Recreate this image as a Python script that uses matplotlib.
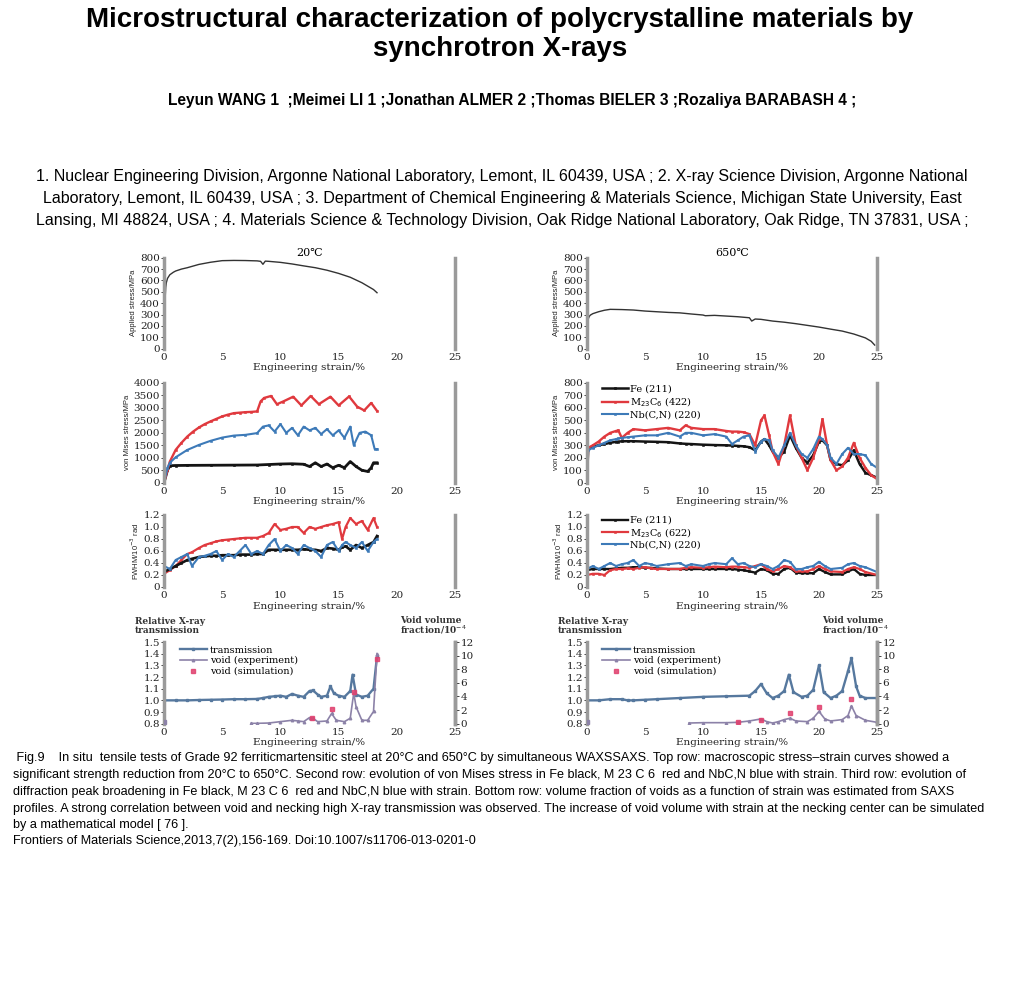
import matplotlib
matplotlib.use('Agg')
import matplotlib.pyplot as plt
from matplotlib import font_manager

_names = {f.name for f in font_manager.fontManager.ttflist}
NARROW = 'Liberation Sans Narrow' if 'Liberation Sans Narrow' in _names else None
SANS = 'Liberation Sans'
SERIF = 'DejaVu Serif'
plt.rcParams['font.family'] = SERIF

# ---------------- data ----------------
title_lines = ["Microstructural characterization of polycrystalline materials by",
               "synchrotron X-rays"]
authors = "Leyun WANG 1  ;Meimei LI 1 ;Jonathan ALMER 2 ;Thomas BIELER 3 ;Rozaliya BARABASH 4 ;"
affil_lines = [
    "1. Nuclear Engineering Division, Argonne National Laboratory, Lemont, IL 60439, USA ; 2. X-ray Science Division, Argonne National",
    "Laboratory, Lemont, IL 60439, USA ; 3. Department of Chemical Engineering & Materials Science, Michigan State University, East",
    "Lansing, MI 48824, USA ; 4. Materials Science & Technology Division, Oak Ridge National Laboratory, Oak Ridge, TN 37831, USA ;",
]
caption_lines = [
    " Fig.9    In situ  tensile tests of Grade 92 ferriticmartensitic steel at 20°C and 650°C by simultaneous WAXSSAXS. Top row: macroscopic stress–strain curves showed a",
    "significant strength reduction from 20°C to 650°C. Second row: evolution of von Mises stress in Fe black, M 23 C 6  red and NbC,N blue with strain. Third row: evolution of",
    "diffraction peak broadening in Fe black, M 23 C 6  red and NbC,N blue with strain. Bottom row: volume fraction of voids as a function of strain was estimated from SAXS",
    "profiles. A strong correlation between void and necking high X-ray transmission was observed. The increase of void volume with strain at the necking center can be simulated",
    "by a mathematical model [ 76 ].",
    "Frontiers of Materials Science,2013,7(2),156-169. Doi:10.1007/s11706-013-0201-0",
]
panel_titles = ["20℃", "650℃"]
xlabel = "Engineering strain/%"
x_ticks = [0, 5, 10, 15, 20, 25]

# Row 1: applied stress
app20_x = [0, 0.05, 0.1, 0.15, 0.2, 0.3, 0.5, 0.8, 1, 1.5, 2, 3, 4, 5, 6, 7, 8, 8.3, 8.5, 8.7, 9, 10, 11, 12, 13, 14, 15, 16, 17, 18, 18.3]
app20_y = [0, 250, 450, 540, 580, 618, 650, 672, 683, 700, 712, 741, 760, 774, 776, 775, 772, 768, 742, 770, 768, 759, 745, 728, 712, 690, 662, 628, 580, 520, 492]
app650_x = [0, 0.05, 0.1, 0.2, 0.3, 0.5, 1, 1.5, 2, 3, 4, 5, 6, 7, 8, 9, 10, 10.2, 11, 12, 13, 14, 14.2, 14.5, 15, 16, 17, 18, 19, 20, 21, 22, 23, 24, 24.5, 24.8]
app650_y = [0, 150, 260, 285, 296, 308, 325, 338, 346, 344, 340, 331, 325, 319, 315, 305, 296, 290, 293, 287, 281, 272, 243, 261, 258, 243, 233, 220, 205, 190, 172, 155, 129, 95, 65, 32]

# Row 2: von Mises stress, 20C
vm20_red_x = [0, 0.3, 0.5, 1, 1.5, 2, 2.5, 3, 3.5, 4, 4.5, 5, 5.5, 6, 6.5, 7, 7.5, 8, 8.3, 8.6, 9.2, 9.7, 10.2, 11.1, 11.8, 12.6, 13.3, 14.3, 15.0, 15.9, 16.6, 17.2, 17.8, 18.3]
vm20_red_y = [0, 510, 845, 1315, 1600, 1850, 2050, 2215, 2350, 2460, 2560, 2660, 2730, 2790, 2810, 2830, 2840, 2860, 3260, 3400, 3480, 3150, 3250, 3450, 3100, 3480, 3150, 3450, 3100, 3460, 3050, 2900, 3200, 2880]
vm20_blue_x = [0, 0.3, 0.5, 1, 2, 3, 4, 5, 6, 7, 8, 8.5, 9, 9.5, 10, 10.5, 11, 11.5, 12, 12.5, 13, 13.5, 14, 14.5, 15, 15.5, 16, 16.3, 16.8, 17.3, 17.8, 18.1, 18.3]
vm20_blue_y = [0, 600, 800, 1020, 1315, 1515, 1680, 1810, 1890, 1920, 1990, 2250, 2300, 2050, 2350, 2000, 2200, 1900, 2250, 2100, 2200, 1950, 2150, 1900, 2100, 1800, 2250, 1500, 2000, 2050, 1900, 1350, 1350]
vm20_black_x = [0, 0.3, 0.5, 1, 2, 4, 6, 8, 9, 10, 11, 12, 12.5, 13, 13.5, 14, 14.5, 15, 15.5, 16, 16.5, 17, 17.5, 17.8, 18, 18.3]
vm20_black_y = [0, 500, 680, 690, 695, 700, 705, 710, 730, 750, 760, 740, 650, 800, 650, 750, 600, 700, 600, 850, 650, 500, 450, 600, 800, 800]

# Row 2: von Mises stress, 650C
vm650_x = [0, 0.1, 0.5, 1, 1.5, 2, 2.5, 2.7, 3, 3.5, 4, 5, 6, 7, 8, 8.5, 9, 10, 11, 12, 12.5, 13, 13.5, 14, 14.5, 15, 15.3, 15.7, 16, 16.5, 17, 17.5, 18, 18.5, 19, 19.5, 20, 20.3, 20.7, 21, 21.5, 22, 22.5, 23, 23.5, 24, 24.5, 25]
vm650_fe = [0, 270, 290, 300, 310, 320, 328, 330, 332, 333, 333, 330, 328, 325, 315, 312, 310, 305, 302, 300, 298, 295, 292, 285, 260, 330, 350, 300, 250, 200, 250, 380, 280, 200, 160, 220, 330, 340, 300, 180, 150, 140, 180, 260, 150, 80, 60, 40]
vm650_m23 = [0, 280, 300, 330, 370, 400, 415, 420, 360, 400, 430, 420, 430, 440, 420, 460, 440, 430, 430, 415, 410, 410, 405, 390, 300, 500, 540, 380, 250, 150, 300, 540, 300, 200, 100, 200, 350, 510, 300, 180, 100, 130, 200, 320, 200, 120, 60, 30]
vm650_nb = [0, 260, 280, 300, 320, 340, 350, 355, 360, 365, 370, 380, 380, 400, 370, 400, 400, 380, 390, 370, 310, 340, 370, 380, 250, 330, 350, 340, 260, 200, 300, 400, 300, 230, 200, 270, 370, 350, 300, 200, 150, 230, 280, 230, 230, 220, 150, 120]

# Row 3: FWHM, 20C
fw20_x = [0, 0.5, 1, 1.5, 2, 2.4, 3, 3.5, 4, 4.5, 5, 5.5, 6, 6.5, 7, 7.5, 8, 8.5, 9, 9.5, 10, 10.5, 11, 11.5, 12, 12.5, 13, 13.5, 14, 14.5, 15, 15.3, 15.6, 16, 16.5, 17, 17.5, 18, 18.3]
fw20_m23 = [0.22, 0.28, 0.35, 0.45, 0.55, 0.58, 0.65, 0.7, 0.73, 0.76, 0.78, 0.79, 0.8, 0.81, 0.82, 0.82, 0.82, 0.85, 0.9, 1.05, 0.95, 0.97, 1.0, 1.0, 0.9, 1.0, 0.97, 1.0, 1.03, 1.05, 1.08, 0.8, 1.0, 1.15, 1.05, 1.1, 0.95, 1.15, 1.0]
fw20_nb = [0.35, 0.3, 0.45, 0.5, 0.55, 0.35, 0.5, 0.52, 0.55, 0.6, 0.45, 0.55, 0.5, 0.6, 0.7, 0.55, 0.6, 0.55, 0.7, 0.8, 0.6, 0.7, 0.65, 0.55, 0.7, 0.65, 0.6, 0.5, 0.7, 0.75, 0.6, 0.7, 0.75, 0.7, 0.65, 0.75, 0.6, 0.75, 0.8]
fw20_fe = [0.25, 0.3, 0.35, 0.4, 0.45, 0.47, 0.5, 0.51, 0.52, 0.52, 0.53, 0.53, 0.53, 0.54, 0.54, 0.54, 0.55, 0.55, 0.62, 0.62, 0.62, 0.62, 0.62, 0.62, 0.63, 0.62, 0.62, 0.6, 0.65, 0.64, 0.62, 0.66, 0.68, 0.62, 0.7, 0.65, 0.7, 0.75, 0.85]

# Row 3: FWHM, 650C
fw650_x = [0, 0.5, 1, 1.5, 2, 2.5, 3, 3.5, 4, 4.5, 5, 5.5, 6, 7, 8, 8.5, 9, 10, 10.5, 11, 12, 12.5, 13, 13.5, 14, 14.5, 15, 15.5, 16, 16.5, 17, 17.5, 18, 18.5, 19, 19.5, 20, 20.5, 21, 22, 22.5, 23, 23.5, 24, 25]
fw650_fe = [0.28, 0.3, 0.3, 0.3, 0.3, 0.31, 0.32, 0.32, 0.33, 0.33, 0.32, 0.32, 0.31, 0.3, 0.3, 0.3, 0.3, 0.3, 0.3, 0.3, 0.3, 0.3, 0.29, 0.28, 0.26, 0.24, 0.3, 0.28, 0.22, 0.22, 0.3, 0.32, 0.24, 0.23, 0.23, 0.23, 0.3, 0.25, 0.21, 0.21, 0.26, 0.3, 0.22, 0.2, 0.2]
fw650_m23 = [0.2, 0.22, 0.22, 0.2, 0.28, 0.3, 0.3, 0.31, 0.3, 0.32, 0.33, 0.31, 0.3, 0.3, 0.3, 0.32, 0.33, 0.32, 0.33, 0.34, 0.33, 0.34, 0.34, 0.33, 0.32, 0.35, 0.38, 0.3, 0.26, 0.3, 0.35, 0.33, 0.26, 0.26, 0.26, 0.3, 0.35, 0.3, 0.26, 0.25, 0.3, 0.33, 0.3, 0.25, 0.2]
fw650_nb = [0.3, 0.35, 0.3, 0.35, 0.4, 0.35, 0.38, 0.4, 0.45, 0.35, 0.4, 0.38, 0.35, 0.38, 0.4, 0.35, 0.38, 0.35, 0.38, 0.4, 0.38, 0.48, 0.38, 0.4, 0.35, 0.33, 0.38, 0.35, 0.3, 0.35, 0.45, 0.42, 0.3, 0.3, 0.33, 0.35, 0.42, 0.35, 0.3, 0.32, 0.38, 0.4, 0.35, 0.33, 0.25]

# Row 4: transmission and voids
tr20_x = [0, 1, 2, 3, 4, 5, 6, 7, 8, 8.5, 9, 9.5, 10, 10.5, 11, 11.5, 12, 12.5, 12.8, 13.2, 13.5, 14, 14.3, 14.6, 15, 15.5, 16, 16.2, 16.5, 17, 17.5, 18, 18.3]
tr20_y = [1.0, 1.0, 1.0, 1.003, 1.005, 1.007, 1.01, 1.01, 1.012, 1.02, 1.03, 1.035, 1.04, 1.03, 1.055, 1.04, 1.03, 1.08, 1.085, 1.05, 1.03, 1.04, 1.12, 1.06, 1.04, 1.03, 1.08, 1.22, 1.05, 1.03, 1.04, 1.1, 1.38]
void20_exp_x = [7.5, 8, 9, 10, 11, 11.5, 12, 12.5, 12.8, 13.2, 14, 14.4, 14.8, 15.5, 16, 16.3, 16.5, 17, 17.5, 18, 18.3]
void20_exp_y = [0.05, 0.05, 0.1, 0.3, 0.5, 0.4, 0.3, 0.9, 0.8, 0.3, 0.4, 1.5, 0.5, 0.3, 0.8, 4.5, 2.5, 0.5, 0.5, 1.8, 10.3]
void20_sim_x = [12.7, 14.4, 16.3, 18.3]
void20_sim_y = [0.9, 2.2, 4.6, 9.5]
tr650_x = [0, 1, 2, 3, 3.5, 4, 5, 6, 8, 10, 12, 14, 14.5, 15, 15.5, 16, 16.5, 17, 17.4, 17.8, 18.5, 19, 19.5, 20, 20.4, 21, 21.5, 22, 22.5, 22.8, 23.2, 23.5, 24, 25]
tr650_y = [1.0, 1.0, 1.01, 1.01, 1.0, 1.0, 1.005, 1.01, 1.02, 1.03, 1.035, 1.04, 1.08, 1.14, 1.06, 1.02, 1.04, 1.08, 1.22, 1.07, 1.03, 1.04, 1.09, 1.3, 1.07, 1.02, 1.04, 1.08, 1.25, 1.36, 1.12, 1.04, 1.02, 1.02]
void650_exp_x = [8.8, 10, 12, 13, 14, 15, 15.5, 16, 16.5, 17, 17.5, 18, 19, 19.5, 20, 20.5, 21, 22, 22.5, 22.8, 23.2, 24, 25]
void650_exp_y = [0.1, 0.15, 0.15, 0.2, 0.4, 0.7, 0.3, 0.1, 0.3, 0.6, 0.8, 0.4, 0.3, 0.8, 1.8, 0.7, 0.4, 0.6, 1.2, 2.6, 1.2, 0.5, 0.2]
void650_sim_x = [13, 15, 17.5, 20, 22.8]
void650_sim_y = [0.2, 0.5, 1.6, 2.4, 3.6]
void_start_x = [0]
void_start_y = [0.3]

# ---------------- styles ----------------
C_FE = '#141414'
C_M23 = '#e0393e'
C_NB = '#3d7ab8'
C_TR = '#56789e'
C_VE = '#8c82a8'
C_VS = '#e0406e'
SPINE = '#9a9a9a'

W, H = 1024, 1000
fig = plt.figure(figsize=(W / 100, H / 100), dpi=100)


def ax_px(x0, x1, ytop, ybot):
    return fig.add_axes([x0 / W, 1 - ybot / H, (x1 - x0) / W, (ybot - ytop) / H])


def style(ax, ylim, yticks, ylabels, ylab=None):
    ax.set_xlim(0, 25)
    ax.set_ylim(*ylim)
    ax.set_xticks(x_ticks)
    ax.set_xticklabels([str(t) for t in x_ticks])
    ax.set_yticks(yticks)
    ax.set_yticklabels(ylabels)
    for s in ('top', 'bottom'):
        ax.spines[s].set_visible(False)
    for s in ('left', 'right'):
        ax.spines[s].set_color(SPINE)
        ax.spines[s].set_linewidth(2.5)
    ax.tick_params(axis='x', length=0, labelsize=7.5, pad=3, colors='#222')
    ax.tick_params(axis='y', length=2, labelsize=7.5, pad=1, colors='#222', width=0.6)
    ax.set_xlabel(xlabel, fontsize=7.5, labelpad=1, color='#222')
    if ylab:
        ax.set_ylabel(ylab, fontsize=5.5, family=SANS, labelpad=2, color='#222')
    ax.set_facecolor('white')


LX = (164, 455)
RX = (587, 877)
ROWS = [(257.7, 348.7), (383, 482.7), (515, 587), (642, 723.7)]

mk = dict(markersize=1.7, markeredgewidth=0.4)

# Row 1
a = ax_px(*LX, *ROWS[0])
a.plot(app20_x, app20_y, color='#333', lw=1.0)
style(a, (0, 800), list(range(0, 801, 100)), [str(v) for v in range(0, 801, 100)], "Applied stress/MPa")
a.set_title(panel_titles[0], fontsize=8, pad=1)
a = ax_px(*RX, *ROWS[0])
a.plot(app650_x, app650_y, color='#333', lw=1.0)
style(a, (0, 800), list(range(0, 801, 100)), [str(v) for v in range(0, 801, 100)], "Applied stress/MPa")
a.set_title(panel_titles[1], fontsize=8, pad=1)

# Row 2
a = ax_px(*LX, *ROWS[1])
a.plot(vm20_black_x, vm20_black_y, color=C_FE, lw=2.0, marker='s', **mk)
a.plot(vm20_red_x, vm20_red_y, color=C_M23, lw=1.7, marker='s', **mk)
a.plot(vm20_blue_x, vm20_blue_y, color=C_NB, lw=1.5, marker='s', **mk)
style(a, (0, 4000), list(range(0, 4001, 500)), [str(v) for v in range(0, 4001, 500)], "von Mises stress/MPa")
a = ax_px(*RX, *ROWS[1])
a.plot(vm650_x, vm650_fe, color=C_FE, lw=1.8, marker='s', label='Fe (211)', **mk)
a.plot(vm650_x, vm650_m23, color=C_M23, lw=1.7, marker='s', label='M$_{23}$C$_6$ (422)', **mk)
a.plot(vm650_x, vm650_nb, color=C_NB, lw=1.5, marker='s', label='Nb(C,N) (220)', **mk)
style(a, (0, 800), list(range(0, 801, 100)), [str(v) for v in range(0, 801, 100)], "von Mises stress/MPa")
a.legend(loc='upper left', bbox_to_anchor=(0.04, 1.02), frameon=False, fontsize=7,
         handlelength=2.6, labelspacing=0.15, borderaxespad=0, handletextpad=0.2)

# Row 3
fw_ticks = [0, 0.2, 0.4, 0.6, 0.8, 1.0, 1.2]
fw_labels = ['0', '0.2', '0.4', '0.6', '0.8', '1.0', '1.2']
a = ax_px(*LX, *ROWS[2])
a.plot(fw20_x, fw20_m23, color=C_M23, lw=1.6, marker='s', **mk)
a.plot(fw20_x, fw20_fe, color=C_FE, lw=1.9, marker='s', **mk)
a.plot(fw20_x, fw20_nb, color=C_NB, lw=1.5, marker='s', **mk)
style(a, (0, 1.2), fw_ticks, fw_labels, "FWHM/10$^{-3}$ rad")
a = ax_px(*RX, *ROWS[2])
a.plot(fw650_x, fw650_fe, color=C_FE, lw=1.7, marker='s', label='Fe (211)', **mk)
a.plot(fw650_x, fw650_m23, color=C_M23, lw=1.6, marker='s', label='M$_{23}$C$_6$ (622)', **mk)
a.plot(fw650_x, fw650_nb, color=C_NB, lw=1.5, marker='s', label='Nb(C,N) (220)', **mk)
style(a, (0, 1.2), fw_ticks, fw_labels, "FWHM/10$^{-3}$ rad")
a.legend(loc='upper left', bbox_to_anchor=(0.04, 1.04), frameon=False, fontsize=7,
         handlelength=2.6, labelspacing=0.1, borderaxespad=0, handletextpad=0.2)

# Row 4
tr_ticks = [0.8, 0.9, 1.0, 1.1, 1.2, 1.3, 1.4, 1.5]
tr_labels = ['0.8', '0.9', '1.0', '1.1', '1.2', '1.3', '1.4', '1.5']
void_ticks = [0, 2, 4, 6, 8, 10, 12]


def bottom_panel(xr, tx, ty, vex, vey, vsx, vsy):
    a = ax_px(*xr, *ROWS[3])
    style(a, (0.8, 1.5), tr_ticks, tr_labels)
    b = a.twinx()
    b.set_ylim(0, 12)
    b.set_yticks(void_ticks)
    b.set_yticklabels([str(v) for v in void_ticks])
    b.tick_params(axis='y', length=3, labelsize=7.5, pad=1, colors='#222', width=0.6)
    for s in ('top', 'bottom', 'left'):
        b.spines[s].set_visible(False)
    b.spines['right'].set_color(SPINE)
    b.spines['right'].set_linewidth(2.5)
    l1, = a.plot(tx, ty, color=C_TR, lw=1.7, marker='s', markersize=1.8, label='transmission')
    l2, = b.plot(vex, vey, color=C_VE, lw=1.2, marker='^', markersize=1.8, label='void (experiment)')
    b.plot(void_start_x, void_start_y, color=C_VE, lw=0, marker='s', markersize=3)
    l3, = b.plot(vsx, vsy, color=C_VS, lw=0, marker='s', markersize=3.2, alpha=0.85, label='void (simulation)')
    a.legend(handles=[l1, l2, l3], loc='upper left', bbox_to_anchor=(0.04, 1.0), frameon=False,
             fontsize=7, handlelength=2.8, labelspacing=0.15, borderaxespad=0, handletextpad=0.3)
    return a


bottom_panel(LX, tr20_x, tr20_y, void20_exp_x, void20_exp_y, void20_sim_x, void20_sim_y)
bottom_panel(RX, tr650_x, tr650_y, void650_exp_x, void650_exp_y, void650_sim_x, void650_sim_y)

for x0, x1 in ((135, 400), (558, 822)):
    fig.text(x0 / W, 1 - 626 / H, "Relative X-ray\ntransmission", fontsize=6.5, weight='bold',
             va='center', ha='left', linespacing=0.9, color='#333')
    fig.text(x1 / W, 1 - 626 / H, "Void volume\nfraction/10$^{-4}$", fontsize=6.5, weight='bold',
             va='center', ha='left', linespacing=0.9, color='#333')

# ---------------- header & caption ----------------
fig.text(500 / W, 1 - 20 / H, title_lines[0], fontsize=20, weight='bold', family=SANS,
         ha='center', va='center')
fig.text(500 / W, 1 - 49 / H, title_lines[1], fontsize=20, weight='bold', family=SANS,
         ha='center', va='center')
fig.text(512 / W, 1 - 100 / H, authors, fontsize=11.2, weight='bold', family=SANS, ha='center', va='center')
for i, ln in enumerate(affil_lines):
    fig.text(502 / W, 1 - (177 + 21.5 * i) / H, ln, fontsize=11.5, family=SANS, ha='center', va='center')

cap_font = NARROW if NARROW else SANS
cap_size = 10 if NARROW else 9.1
cap_y = [758, 775, 792, 809, 825, 841]
for y, ln in zip(cap_y, caption_lines):
    fig.text(13 / W, 1 - y / H, ln, fontsize=cap_size, family=cap_font, ha='left', va='center')

fig.savefig('out.png', dpi=100, facecolor='white')
